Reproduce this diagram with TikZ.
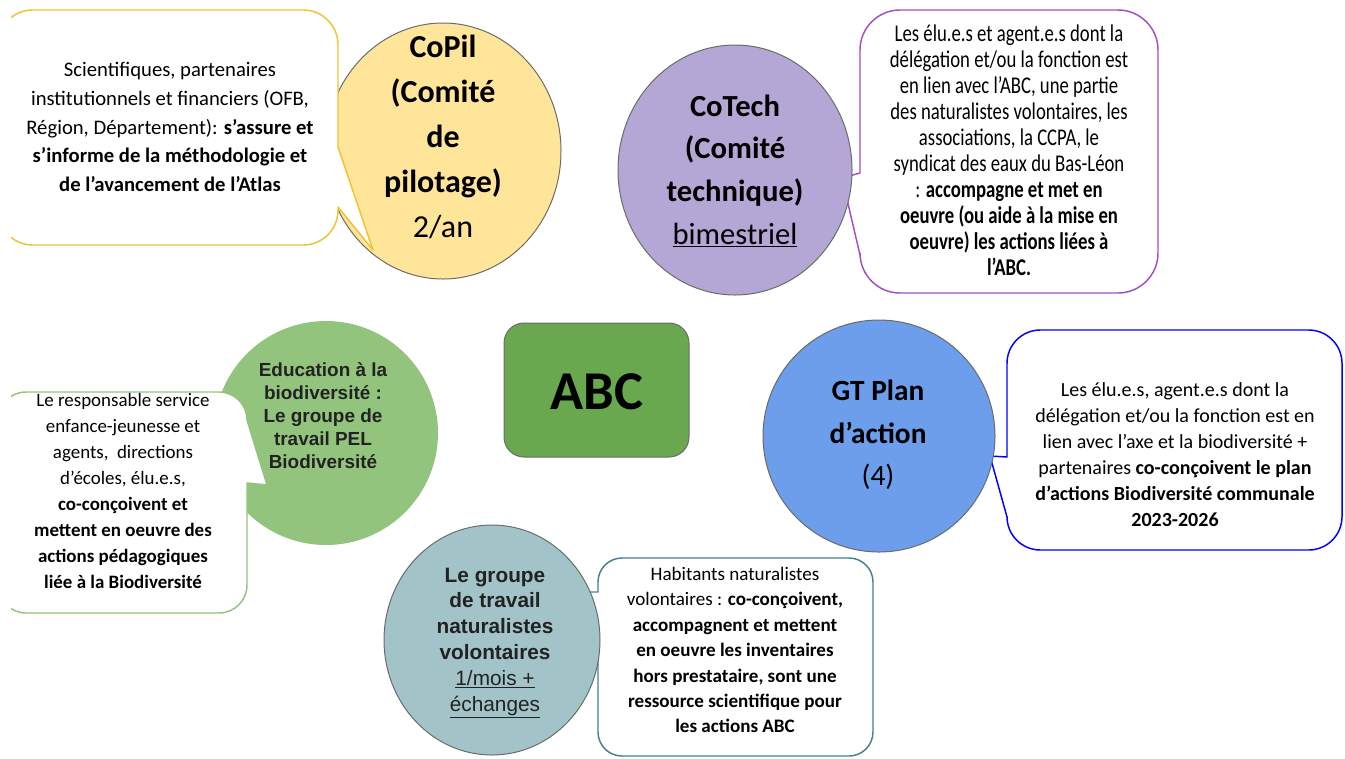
\documentclass[tikz,border=0pt]{standalone}
\usepackage{fontspec}
\setmainfont{Carlito}
\newfontfamily\arialfont{Liberation Sans}
\newfontfamily\narrowfont[FakeStretch=0.78]{Carlito}
\usetikzlibrary{shapes.geometric}

\definecolor{copilfill}{HTML}{FFE599}
\definecolor{copilline}{HTML}{F1C232}
\definecolor{cotechfill}{HTML}{B4A7D6}
\definecolor{cotechline}{HTML}{A64DC4}
\definecolor{abcfill}{HTML}{6AA84F}
\definecolor{edufill}{HTML}{93C47D}
\definecolor{gtfill}{HTML}{6D9EEB}
\definecolor{gtline}{HTML}{0000FF}
\definecolor{natfill}{HTML}{A2C4C9}
\definecolor{natline}{HTML}{45818E}
\definecolor{rimgray}{HTML}{6B6B6B}
\definecolor{inkgray}{HTML}{222222}

\begin{document}
\begin{tikzpicture}[x=0.75pt, y=-0.75pt, outer sep=0pt,
  bubble/.style={ellipse, draw=rimgray, line width=0.75pt, inner sep=0pt},
  callout/.style={fill=white, line width=1.1pt, line join=round},
  bigtxt/.style={align=center, inner sep=0pt},
  notetxt/.style={align=center, inner sep=0pt}]

\useasboundingbox (0,0) rectangle (1345,758);
\begin{scope}
\clip (11,0) rectangle (1345,758);

\node[bubble, fill=copilfill, minimum width=177pt, minimum height=192pt] at (443, 151) (copil) {};
\draw[callout, draw=copilline, rounded corners=26pt] (170,10) -- (338,10) [sharp corners] -- (338,147) -- (373,250) -- (338,207) [rounded corners=26pt] -- (338,245) -- (-2,245) -- (-2,10) -- cycle;
\node[bigtxt, font=\fontsize{24}{33.75}\selectfont] at (443, 137) (copil_txt) {\textbf{CoPil}\\\textbf{(Comité}\\\textbf{de}\\\textbf{pilotage)}\\2/an};
\node[notetxt, font=\fontsize{15.5}{21.5}\selectfont] at (170, 127) (copil_note) {Scientifiques, partenaires\\institutionnels et financiers (OFB,\\Région, Département): \textbf{s’assure et}\\\textbf{s’informe de la méthodologie et}\\\textbf{de l’avancement de l’Atlas}};

\draw[callout, draw=cotechline, rounded corners=30pt] (1010,10) -- (1158,10) -- (1158,293) -- (860,293) [sharp corners] -- (860,255) -- (842,178) -- (860,173) [rounded corners=30pt] -- (860,10) -- cycle;
\node[bubble, fill=cotechfill, minimum width=175.5pt, minimum height=187.5pt] at (735, 170) (cotech) {};
\node[bigtxt, font=\fontsize{23}{32}\selectfont] at (735, 171) (cotech_txt) {\textbf{CoTech}\\\textbf{(Comité}\\\textbf{technique)}\\\underline{bimestriel}};
\node[notetxt, font=\narrowfont\fontsize{18}{19.5}\selectfont] at (1009, 150) (cotech_note) {Les élu.e.s et agent.e.s dont la\\délégation et/ou la fonction est\\en lien avec l’ABC, une partie\\des naturalistes volontaires, les\\associations, la CCPA, le\\syndicat des eaux du Bas-Léon\\: \textbf{accompagne et met en}\\\textbf{oeuvre (ou aide à la mise en}\\\textbf{oeuvre) les actions liées à}\\\textbf{l’ABC.}};

\node[draw=rimgray, line width=0.75pt, fill=abcfill, rounded corners=15pt, minimum width=138.75pt, minimum height=100.5pt] at (596.5, 390) (abc) {};
\node[font=\fontsize{41}{45}\selectfont\bfseries] at (597, 392) (abc_txt) {ABC};

\node[ellipse, fill=edufill, minimum size=168pt] at (326, 433) (edu) {};
\draw[callout, draw=edufill, rounded corners=21pt] (120,392) -- (247,392) [sharp corners] -- (247,420) -- (267,485) -- (247,483) [rounded corners=21pt] -- (247,613) -- (-2,613) -- (-2,392) -- cycle;
\node[bigtxt, font=\arialfont\fontsize{14.2}{17.3}\selectfont\bfseries, text=inkgray] at (323, 416) (edu_txt) {Education à la\\biodiversité :\\Le groupe de\\travail PEL\\Biodiversité};
\node[notetxt, font=\fontsize{14.2}{19.5}\selectfont] at (123, 491) (edu_note) {Le responsable service\\enfance-jeunesse et\\agents,\ \ directions\\d’écoles, élu.e.s,\\\textbf{co-conçoivent et}\\\textbf{mettent en oeuvre des}\\\textbf{actions pédagogiques}\\\textbf{liée à la Biodiversité}};

\draw[callout, draw=gtline, rounded corners=25pt] (1170,330) -- (1342,330) -- (1342,550) -- (1007,550) [sharp corners] -- (1007,517) -- (990,456) -- (1007,457) [rounded corners=25pt] -- (1007,330) -- cycle;
\node[bubble, fill=gtfill, minimum size=174pt] at (879, 436) (gt) {};
\node[bigtxt, font=\fontsize{22}{32}\selectfont] at (878, 435) (gt_txt) {\textbf{GT Plan}\\\textbf{d’action}\\(4)};
\node[notetxt, font=\fontsize{15}{19.5}\selectfont] at (1175, 455) (gt_note) {Les élu.e.s, agent.e.s dont la\\délégation et/ou la fonction est en\\lien avec l’axe et la biodiversité +\\partenaires \textbf{co-conçoivent le plan}\\\textbf{d’actions Biodiversité communale}\\\textbf{2023-2026}};

\draw[callout, draw=natline, rounded corners=18pt] (735,558) -- (873,558) -- (873,756) -- (598,756) [sharp corners] -- (598,660) -- (588,592) -- (598,592) [rounded corners=18pt] -- (598,558) -- cycle;
\node[bubble, fill=natfill, minimum width=162pt, minimum height=172.5pt] at (492, 640) (nat) {};
\node[bigtxt, font=\arialfont\fontsize{15.6}{19.4}\selectfont, text=inkgray] at (495, 643) (nat_txt) {\textbf{Le groupe}\\\textbf{de travail}\\\textbf{naturalistes}\\\textbf{volontaires}\\\underline{1/mois +}\\\underline{échanges}};
\node[notetxt, font=\fontsize{14.3}{19.1}\selectfont] at (735, 650) (nat_note) {Habitants naturalistes\\volontaires : \textbf{co-conçoivent,}\\\textbf{accompagnent et mettent}\\\textbf{en oeuvre les inventaires}\\\textbf{hors prestataire, sont une}\\\textbf{ressource scientifique pour}\\\textbf{les actions ABC}};
\end{scope}
\end{tikzpicture}
\end{document}
